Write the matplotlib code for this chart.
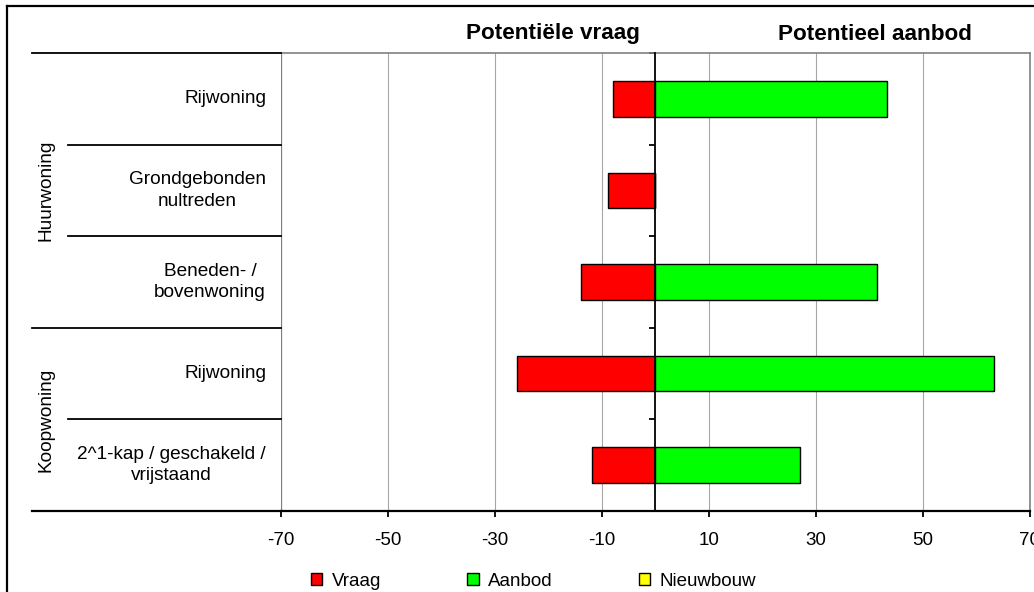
import numpy as np
import matplotlib
matplotlib.use("Agg")
import matplotlib.pyplot as plt
import matplotlib.transforms as mtransforms
from matplotlib.lines import Line2D
from matplotlib.patches import Patch

plt.rcParams['font.family'] = ['Liberation Sans', 'DejaVu Sans']
plt.rcParams['axes.unicode_minus'] = False

# woningtypen, van boven naar beneden
categories = ["Rijwoning", "Grondgebonden\nnultreden", "Beneden- /\nbovenwoning",
              "Rijwoning", "2^1-kap / geschakeld /\nvrijstaand"]
groups = ["Huurwoning", "Koopwoning"]
group_sizes = [3, 2]

vraag = [-7.9, -8.8, -13.8, -25.8, -11.9]
aanbod = [43.4, 0, 41.4, 63.3, 27.1]
nieuwbouw = [0, 0, 0, 0, 0]

x_ticks = [-70, -50, -30, -10, 10, 30, 50, 70]

W, H = 1034, 592
fig = plt.figure(figsize=(W / 100, H / 100), dpi=100)
ax = fig.add_axes([281 / W, 81 / H, 748.5 / W, 458 / H])

n = len(categories)
ypos = n - 0.5 - np.arange(n)   # top category first
bar_h = 0.39

ax.barh(ypos, vraag, height=bar_h, color='#FF0000', edgecolor='black', linewidth=1.0, zorder=3)
ax.barh(ypos, aanbod, height=bar_h, color='#00FF00', edgecolor='black', linewidth=1.0, zorder=3)
ax.barh(ypos, nieuwbouw, left=aanbod, height=bar_h, color='#FFFF00', edgecolor='black',
        linewidth=0, zorder=3)

ax.set_xlim(-70, 70)
ax.set_ylim(0, n)
ax.set_xticks(x_ticks)
ax.set_xticklabels([str(t) for t in x_ticks])
ax.set_yticks(np.arange(n + 1))
ax.tick_params(axis='y', direction='out', length=4, width=1.3, color='black', labelleft=False)
ax.tick_params(axis='x', direction='out', length=4, width=1.3, color='black', pad=11,
               labelsize=13.5)

# verticale rasterlijnen
ax.grid(axis='x', color='#a6a6a6', linewidth=0.8)
ax.set_axisbelow(True)
ax.axvline(-70, color='#808080', linewidth=1.6, zorder=1)

# nul-as als y-as
ax.spines['left'].set_position(('data', 0))
ax.spines['left'].set_color('black')
ax.spines['left'].set_linewidth(1.3)
ax.spines['left'].set_zorder(4)
ax.spines['bottom'].set_color('black')
ax.spines['bottom'].set_linewidth(1.6)
for s in ['top', 'right']:
    ax.spines[s].set_color('#808080')
    ax.spines[s].set_linewidth(1.2)

# scheidingslijnen en labels links van het plotgebied
trans = mtransforms.blended_transform_factory(fig.transFigure, ax.transData)
x_end = 281 / W
group_edges = np.cumsum([0] + group_sizes)
for b in range(n + 1):
    y = n - b
    x_start = 32 / W if b in group_edges else 68 / W
    lw = 1.6 if b == n else 1.3
    fig.add_artist(Line2D([x_start, x_end], [y, y], transform=trans, color='black', linewidth=lw))

for label, y in zip(categories, ypos):
    fig.text(266 / W, y, label, transform=trans, ha='right', va='center',
             multialignment='center', fontsize=13.7, linespacing=1.35)

for g, name in enumerate(groups):
    y_mid = n - (group_edges[g] + group_edges[g + 1]) / 2
    fig.text(46 / W, y_mid, name, transform=trans, rotation=90, ha='center', va='center',
             fontsize=13.7)

# koppen boven de balken
fig.text(552.5 / W, 1 - 39.5 / H, "Potentiële vraag", ha='center', va='baseline',
         fontsize=16.2, fontweight='bold')
fig.text(874.5 / W, 1 - 39.5 / H, "Potentieel aanbod", ha='center', va='baseline',
         fontsize=16.2, fontweight='bold')

# legenda
handles = [Patch(facecolor='#FF0000', edgecolor='black', linewidth=1.0),
           Patch(facecolor='#00FF00', edgecolor='black', linewidth=1.0),
           Patch(facecolor='#FFFF00', edgecolor='black', linewidth=1.0)]
fig.legend(handles, ["Vraag", "Aanbod", "Nieuwbouw"], loc='center',
           bbox_to_anchor=(533.5 / W, 1 - 581 / H), ncol=3, frameon=False,
           fontsize=13.5, handlelength=0.6, handleheight=0.6, handletextpad=0.5,
           columnspacing=4.6, borderpad=0, borderaxespad=0)

# kader rond de grafiek
fig.add_artist(Line2D([7 / W, 7 / W], [0, 1 - 6 / H], transform=fig.transFigure,
                      color='black', linewidth=1.6))
fig.add_artist(Line2D([7 / W, 1], [1 - 6 / H, 1 - 6 / H], transform=fig.transFigure,
                      color='black', linewidth=1.6))

fig.savefig("out.png", dpi=100)
